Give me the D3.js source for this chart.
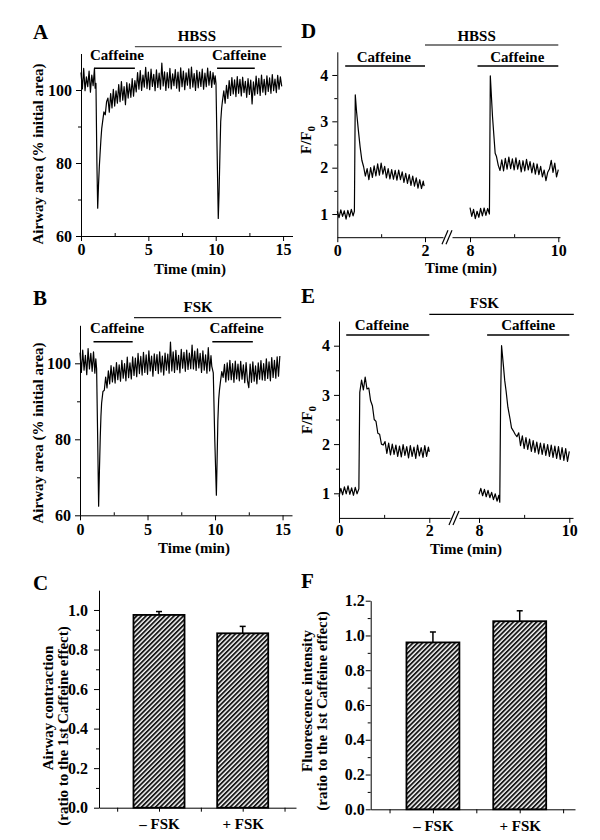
<!DOCTYPE html>
<html>
<head>
<meta charset="utf-8">
<script src="https://cdn.jsdelivr.net/npm/d3@7"></script>
<style>
  body { margin: 0; background: #fff; }
  svg text { font-family: "Liberation Serif", "Times New Roman", serif; font-weight: bold; fill: #000; }
</style>
</head>
<body>
<svg id="fig" width="600" height="840"></svg>
<script>
// ---------- data ----------
// airway area traces, [time (min), % initial area]
const traceA = [[0,104.8],[0.1,100.3],[0.2,105.9],[0.3,99.8],[0.4,103.6],[0.5,100.9],[0.6,105.2],[0.7,99.4],[0.8,104.1],[0.9,101.2],[1.0,106.0],[1.05,100.5],[1.11,101.8],[1.18,80],[1.24,67.6],[1.3,74],[1.36,79],[1.41,82.2],[1.48,86.5],[1.54,89.5],[1.6,91.2],[1.7,94.0],[1.8,93.2],[1.9,96.8],[2.0,97.8],[2.1,93.9],[2.2,99.0],[2.3,95.1],[2.4,100.2],[2.5,95.6],[2.6,99.8],[2.7,96.4],[2.8,101.5],[2.9,96.8],[3.0,102.3],[3.1,97.2],[3.2,100.9],[3.3,96.0],[3.4,102.0],[3.5,97.8],[3.6,101.7],[3.7,98.0],[3.8,103.1],[3.9,98.3],[4.0,102.6],[4.1,99.5],[4.2,104.8],[4.3,100.2],[4.4,105.3],[4.5,99.9],[4.6,104.1],[4.7,100.8],[4.8,106.2],[4.9,100.4],[5.0,104.9],[5.1,100.1],[5.2,105.7],[5.3,101.0],[5.4,104.3],[5.5,99.8],[5.6,105.5],[5.7,100.7],[5.8,104.6],[5.9,100.2],[6.0,107.4],[6.1,101.1],[6.2,105.0],[6.3,99.9],[6.4,104.8],[6.5,100.6],[6.6,105.9],[6.7,100.3],[6.8,104.4],[6.9,101.2],[7.0,105.6],[7.1,100.5],[7.2,104.9],[7.3,99.7],[7.4,106.1],[7.5,100.9],[7.6,105.2],[7.7,100.1],[7.8,104.7],[7.9,101.3],[8.0,105.8],[8.1,100.4],[8.2,106.3],[8.3,100.8],[8.4,104.5],[8.5,99.9],[8.6,105.4],[8.7,100.6],[8.8,104.9],[8.9,101.0],[9.0,105.7],[9.1,100.2],[9.2,104.6],[9.3,100.9],[9.4,106.0],[9.5,101.3],[9.6,105.1],[9.7,100.7],[9.8,104.8],[9.9,101.6],[9.96,103.9],[10.02,101.8],[10.1,84],[10.19,64.8],[10.25,72],[10.31,82],[10.37,91.3],[10.44,95.0],[10.5,97.0],[10.6,99.8],[10.7,96.4],[10.8,101.3],[10.9,97.7],[11.0,102.6],[11.1,98.5],[11.2,103.4],[11.3,98.9],[11.4,102.8],[11.5,98.2],[11.6,103.7],[11.7,99.1],[11.8,102.9],[11.9,98.4],[12.0,103.5],[12.1,99.3],[12.2,102.4],[12.3,98.0],[12.4,103.1],[12.5,98.8],[12.6,102.7],[12.7,96.2],[12.8,102.2],[12.9,98.6],[13.0,103.8],[13.1,99.0],[13.2,103.2],[13.3,98.5],[13.4,104.1],[13.5,99.4],[13.6,102.9],[13.7,98.7],[13.8,103.9],[13.9,99.6],[14.0,103.3],[14.1,99.1],[14.2,104.2],[14.3,99.8],[14.4,103.0],[14.5,99.3],[14.6,104.0],[14.7,100.2],[14.8,103.6],[14.9,101.0]];

const traceB = [[0,102.8],[0.1,97.6],[0.2,103.5],[0.3,98.2],[0.4,102.1],[0.5,97.0],[0.6,103.9],[0.7,98.5],[0.8,102.6],[0.9,97.9],[1.0,103.0],[1.1,97.4],[1.17,101.2],[1.23,98.6],[1.31,80],[1.38,62.4],[1.44,72],[1.5,80.5],[1.55,86],[1.6,89.5],[1.7,92.6],[1.8,92.9],[1.9,96.4],[2.0,93.5],[2.1,98.0],[2.2,94.6],[2.3,99.4],[2.4,95.1],[2.5,99.0],[2.6,94.8],[2.7,100.2],[2.8,95.7],[2.9,99.6],[3.0,95.3],[3.1,100.8],[3.2,96.1],[3.3,99.9],[3.4,95.4],[3.5,101.6],[3.6,96.2],[3.7,100.1],[3.8,95.9],[3.9,101.7],[4.0,96.8],[4.1,101.4],[4.2,96.5],[4.3,102.6],[4.4,97.3],[4.5,101.8],[4.6,96.9],[4.7,102.9],[4.8,97.6],[4.9,102.2],[5.0,97.1],[5.1,103.3],[5.2,98.0],[5.3,101.9],[5.4,96.6],[5.5,102.5],[5.6,98.1],[5.7,102.3],[5.8,97.3],[5.9,103.0],[6.0,97.7],[6.1,101.9],[6.2,96.9],[6.3,102.7],[6.4,98.2],[6.5,102.4],[6.6,97.4],[6.7,105.6],[6.8,98.0],[6.9,103.0],[7.0,97.6],[7.1,103.4],[7.2,98.3],[7.3,102.1],[7.4,97.5],[7.5,103.7],[7.6,98.7],[7.7,102.9],[7.8,97.9],[7.9,103.5],[8.0,98.4],[8.1,102.7],[8.2,98.6],[8.3,104.8],[8.4,98.5],[8.5,103.2],[8.6,98.1],[8.7,103.8],[8.8,98.8],[8.9,102.6],[9.0,97.6],[9.1,103.3],[9.2,98.2],[9.3,102.2],[9.4,97.4],[9.5,104.1],[9.6,98.0],[9.7,102.0],[9.76,99.2],[9.87,97.5],[9.98,80],[10.1,65.3],[10.15,74],[10.21,85],[10.27,90.5],[10.33,93.0],[10.4,95.1],[10.5,97.8],[10.6,96.3],[10.7,99.7],[10.8,95.1],[10.9,100.1],[11.0,95.6],[11.1,100.8],[11.2,95.7],[11.3,99.9],[11.4,95.0],[11.5,100.6],[11.6,95.9],[11.7,99.8],[11.8,95.4],[11.9,100.5],[12.0,95.8],[12.1,99.6],[12.2,94.9],[12.3,100.2],[12.4,95.5],[12.5,93.6],[12.6,99.8],[12.7,95.0],[12.8,100.4],[12.9,95.3],[13.0,99.3],[13.1,94.6],[13.2,100.1],[13.3,95.8],[13.4,100.7],[13.5,95.6],[13.6,99.9],[13.7,95.5],[13.8,101.2],[13.9,96.0],[14.0,100.4],[14.1,95.4],[14.2,101.5],[14.3,96.3],[14.4,100.8],[14.5,96.1],[14.6,101.7],[14.7,96.6],[14.8,101.9]];

// fluorescence traces, [time (min), F/F0]; a 0-2 min and an 8-10 min piece per panel
const traceD1 = [[0,1.06],[0.04,0.92],[0.08,1.09],[0.12,0.95],[0.16,1.07],[0.2,0.89],[0.24,1.08],[0.28,0.94],[0.32,1.10],[0.36,0.96],[0.39,1.06],[0.41,3.57],[0.44,3.2],[0.48,2.81],[0.52,2.45],[0.56,2.16],[0.6,2.02],[0.64,1.82],[0.68,1.98],[0.72,1.74],[0.76,2.0],[0.8,1.79],[0.84,2.04],[0.88,1.82],[0.92,2.08],[0.96,1.84],[1.0,2.1],[1.04,1.86],[1.08,2.03],[1.12,1.78],[1.16,1.98],[1.2,1.76],[1.24,1.96],[1.28,1.75],[1.32,1.94],[1.36,1.73],[1.4,1.95],[1.44,1.74],[1.48,1.91],[1.52,1.68],[1.56,1.88],[1.6,1.66],[1.64,1.85],[1.68,1.62],[1.72,1.82],[1.76,1.60],[1.8,1.78],[1.84,1.56],[1.88,1.74],[1.92,1.55],[1.96,1.71],[1.98,1.6]];
const traceD2 = [[8.0,1.14],[8.04,0.95],[8.08,1.10],[8.12,0.90],[8.16,1.06],[8.2,0.93],[8.24,1.12],[8.28,0.96],[8.32,1.13],[8.36,0.97],[8.4,1.12],[8.44,1.0],[8.46,3.98],[8.51,3.1],[8.57,2.31],[8.6,2.24],[8.64,2.05],[8.68,1.94],[8.72,2.17],[8.76,1.93],[8.8,2.2],[8.84,1.97],[8.88,2.23],[8.92,1.98],[8.96,2.19],[9.0,1.95],[9.04,2.21],[9.08,1.97],[9.12,2.16],[9.16,1.91],[9.2,2.15],[9.24,1.93],[9.28,2.18],[9.32,1.95],[9.36,2.13],[9.4,1.89],[9.44,2.1],[9.48,1.86],[9.52,2.08],[9.56,1.85],[9.6,2.03],[9.64,1.8],[9.68,1.95],[9.72,1.72],[9.76,1.9],[9.8,1.97],[9.84,2.16],[9.88,1.9],[9.92,2.1],[9.96,1.8],[10.0,1.96]];
const traceE1 = [[0,0.93],[0.04,1.1],[0.08,0.97],[0.12,1.13],[0.16,0.99],[0.2,1.15],[0.24,0.98],[0.28,1.11],[0.32,0.96],[0.36,1.12],[0.4,0.99],[0.44,1.09],[0.46,3.05],[0.5,3.3],[0.54,3.1],[0.58,3.36],[0.62,3.12],[0.66,3.14],[0.7,2.88],[0.74,2.78],[0.78,2.5],[0.82,2.46],[0.86,2.22],[0.9,2.2],[0.94,2.0],[0.98,1.98],[1.02,2.05],[1.06,1.81],[1.1,2.02],[1.14,1.78],[1.18,2.0],[1.22,1.79],[1.26,1.98],[1.3,1.75],[1.34,1.96],[1.38,1.74],[1.42,1.99],[1.46,1.77],[1.5,1.95],[1.54,1.72],[1.58,1.97],[1.62,1.75],[1.66,1.94],[1.7,1.71],[1.74,1.98],[1.78,1.76],[1.82,1.93],[1.86,1.73],[1.9,1.97],[1.94,1.75],[1.98,1.94],[2.0,1.84]];
const traceE2 = [[8.0,0.98],[8.04,1.1],[8.08,0.95],[8.12,1.08],[8.16,0.93],[8.2,1.06],[8.24,0.91],[8.28,1.02],[8.32,0.87],[8.36,0.99],[8.4,0.84],[8.44,0.96],[8.46,0.82],[8.48,3.0],[8.5,4.0],[8.54,3.6],[8.57,3.29],[8.6,3.08],[8.64,2.75],[8.69,2.5],[8.72,2.33],[8.76,2.27],[8.8,2.2],[8.84,2.15],[8.88,2.23],[8.92,1.97],[8.96,2.17],[9.0,1.91],[9.04,2.13],[9.08,1.89],[9.12,2.1],[9.16,1.85],[9.2,2.07],[9.24,1.83],[9.28,2.04],[9.32,1.8],[9.36,2.02],[9.4,1.79],[9.44,2.01],[9.48,1.77],[9.52,1.99],[9.56,1.75],[9.6,1.98],[9.64,1.73],[9.68,1.96],[9.72,1.71],[9.76,1.95],[9.8,1.69],[9.84,1.93],[9.88,1.67],[9.92,1.91],[9.96,1.65],[10.0,1.85]];

// drug application bars: [label, start, end, label centre]
const drugsA = [["HBSS", 4, 14.9, 8.6], ["Caffeine", 1.0, 4.0, 2.67], ["Caffeine", 10.1, 12.9, 11.73]];
const drugsB = [["FSK", 4, 14.9, 8.75], ["Caffeine", 1.0, 3.9, 2.75], ["Caffeine", 9.8, 12.8, 11.6]];
const drugsD = [["HBSS", 2.0, 10.0, 8.15], ["Caffeine", 0.18, 2.0, 1.06], ["Caffeine", 8.17, 10.0, 9.07]];
const drugsE = [["FSK", 2.0, 10.1, 8.12], ["Caffeine", 0.16, 2.0, 0.95], ["Caffeine", 8.18, 10.0, 9.09]];

// summary bars
const groups = ["\u2013 FSK", "+ FSK"];
const contractionMean = [0.975, 0.882];
const contractionSem = [0.017, 0.035];
const fluorMean = [0.96, 1.082];
const fluorSem = [0.06, 0.06];

// ticks
const areaTicks = [60, 80, 100], areaMinor = [70, 90];
const minTicks = [0, 5, 10, 15], minMinor = [2.5, 7.5, 12.5];
const ratioTicks = [1, 2, 3, 4], ratioMinor = [1.5, 2.5, 3.5];
const earlyTicks = [0, 2], earlyMinor = [1];
const lateTicks = [8, 10], lateMinor = [9];
const cTicks = [0, 0.2, 0.4, 0.6, 0.8, 1.0], cMinor = [0.1, 0.3, 0.5, 0.7, 0.9];
const fTicks = [0, 0.2, 0.4, 0.6, 0.8, 1.0, 1.2], fMinor = [0.1, 0.3, 0.5, 0.7, 0.9, 1.1];
const groupTicks = [0.5, 1, 1.5, 2, 2.5];

const svg = d3.select("#fig");

// hatch fill for the bars
svg.append("defs")
  .append("pattern")
  .attr("id", "hatch")
  .attr("patternUnits", "userSpaceOnUse")
  .attr("width", 3.3)
  .attr("height", 3.3)
  .attr("patternTransform", "rotate(45)")
  .call((p) => {
    p.append("rect").attr("width", 3.3).attr("height", 3.3).attr("fill", "#fff");
    p.append("line").attr("x1", 0.9).attr("x2", 0.9).attr("y1", 0).attr("y2", 3.3)
      .attr("stroke", "#1a1a1a").attr("stroke-width", 2);
  });

const intFmt = d3.format("d");

const styleAxis = (g, size) => {
  g.attr("font-size", size);
  g.select(".domain").attr("stroke", "#000").attr("stroke-width", 1);
  g.selectAll(".tick line").attr("stroke", "#000");
};

const minorAxis = (g) => {
  g.select(".domain").remove();
  g.selectAll(".tick line").attr("stroke", "#000");
};

const panelLetter = (txt, x, y) =>
  svg.append("text").attr("x", x).attr("y", y).attr("font-size", 21).text(txt);

const yTitle = (lines, cx, cys) => {
  lines.forEach((ln, i) => {
    svg.append("text")
      .attr("transform", `translate(${cx[i]},${cys[i]}) rotate(-90)`)
      .attr("text-anchor", "middle")
      .attr("dy", "0.35em")
      .attr("font-size", 15)
      .text(ln);
  });
};

const drugBars = (drugs, px, rows) => {
  drugs.forEach(([label, t0, t1, tl], i) => {
    const row = i === 0 ? rows.top : rows.caf;
    svg.append("line")
      .attr("x1", px(t0)).attr("x2", px(t1))
      .attr("y1", row.line).attr("y2", row.line)
      .attr("stroke", i === 0 ? rows.topColor : "#000")
      .attr("stroke-width", i === 0 ? 1.2 : 1.6);
    svg.append("text")
      .attr("x", px(tl)).attr("y", row.text)
      .attr("text-anchor", "middle")
      .attr("font-size", 15)
      .text(label);
  });
};

const drawTrace = (data, line) =>
  svg.append("path")
    .datum(data)
    .attr("fill", "none")
    .attr("stroke", "#000")
    .attr("stroke-width", 1.2)
    .attr("stroke-linejoin", "round")
    .attr("d", line);

// ---------- airway area panels (A, B) ----------
function areaPanel(cfg) {
  const x = d3.scaleLinear().domain([0, 15.7]).range(cfg.xRange);
  const y = d3.scaleLinear().domain([60, 110]).range(cfg.yRange);
  const x0 = cfg.xRange[0], yb = cfg.yRange[0];

  svg.append("g").attr("transform", `translate(${x0},0)`)
    .call(d3.axisLeft(y).tickValues(areaTicks).tickSizeInner(5).tickSizeOuter(0).tickPadding(4))
    .call(styleAxis, 16);
  svg.append("g").attr("transform", `translate(${x0},0)`)
    .call(d3.axisLeft(y).tickValues(areaMinor).tickSize(3).tickFormat(""))
    .call(minorAxis);
  svg.append("g").attr("transform", `translate(0,${yb})`)
    .call(d3.axisBottom(x).tickValues(minTicks).tickSizeInner(5).tickSizeOuter(0).tickPadding(3))
    .call(styleAxis, 16);
  svg.append("g").attr("transform", `translate(0,${yb})`)
    .call(d3.axisBottom(x).tickValues(minMinor).tickSize(-3).tickFormat(""))
    .call(minorAxis);

  drawTrace(cfg.trace, d3.line().x((d) => x(d[0])).y((d) => y(d[1])));

  drugBars(cfg.drugs, x, cfg.rows);
  panelLetter(cfg.letter, 33, cfg.letterY);
  yTitle(["Airway area (% initial area)"], [38], [cfg.titleY]);
  svg.append("text").attr("x", cfg.timeX).attr("y", cfg.timeY)
    .attr("text-anchor", "middle").attr("font-size", 15).text("Time (min)");
}

areaPanel({
  trace: traceA, drugs: drugsA, letter: "A", letterY: 39,
  xRange: [81, 292.5], yRange: [236, 53.5],
  rows: { top: { line: 46.7, text: 40.5 }, caf: { line: 68.3, text: 60 }, topColor: "#555" },
  titleY: 154, timeX: 190, timeY: 274
});
areaPanel({
  trace: traceB, drugs: drugsB, letter: "B", letterY: 305,
  xRange: [80, 292], yRange: [515.3, 325.3],
  rows: { top: { line: 317.7, text: 312 }, caf: { line: 341.7, text: 332.7 }, topColor: "#222" },
  titleY: 433, timeX: 194, timeY: 553
});

// ---------- fluorescence panels (D, E), broken time axis ----------
function ratioPanel(cfg) {
  const xe = d3.scaleLinear().domain([0, 2]).range(cfg.early);
  const xl = d3.scaleLinear().domain([8, 10]).range(cfg.late);
  const px = (t) => (t <= 5 ? xe(t) : xl(t));
  const y = d3.scaleLinear().domain([0.5, 4.5]).range(cfg.yRange);
  const x0 = cfg.early[0], yb = cfg.yRange[0];

  svg.append("g").attr("transform", `translate(${x0},0)`)
    .call(d3.axisLeft(y).tickValues(ratioTicks).tickFormat(intFmt)
      .tickSizeInner(5).tickSizeOuter(0).tickPadding(4))
    .call(styleAxis, 16);
  svg.append("g").attr("transform", `translate(${x0},0)`)
    .call(d3.axisLeft(y).tickValues(ratioMinor).tickSize(3).tickFormat(""))
    .call(minorAxis);

  // left and right pieces of the time axis
  const xeAxis = xe.copy().domain([0, xe.invert(cfg.gap[0])]).range([x0, cfg.gap[0]]);
  const xlAxis = xl.copy().domain([xl.invert(cfg.gap[1]), xl.invert(cfg.end)]).range([cfg.gap[1], cfg.end]);
  [[xeAxis, earlyTicks, earlyMinor], [xlAxis, lateTicks, lateMinor]].forEach(([sc, tv, mv]) => {
    svg.append("g").attr("transform", `translate(0,${yb})`)
      .call(d3.axisBottom(sc).tickValues(tv).tickFormat(intFmt)
        .tickSizeInner(5).tickSizeOuter(0).tickPadding(2))
      .call(styleAxis, 16);
    svg.append("g").attr("transform", `translate(0,${yb})`)
      .call(d3.axisBottom(sc).tickValues(mv).tickSize(-3).tickFormat(""))
      .call(minorAxis);
  });
  // break marks
  [0, 4].forEach((dx) => {
    svg.append("line")
      .attr("x1", cfg.gap[0] + dx - 1).attr("y1", yb + 7)
      .attr("x2", cfg.gap[0] + dx + 5).attr("y2", yb - 7)
      .attr("stroke", "#000").attr("stroke-width", 1.2);
  });

  const line = d3.line().x((d) => px(d[0])).y((d) => y(d[1]));
  drawTrace(cfg.first, line);
  drawTrace(cfg.second, line);

  drugBars(cfg.drugs, px, cfg.rows);
  panelLetter(cfg.letter, 301, cfg.letterY);

  const t = svg.append("text")
    .attr("transform", `translate(${cfg.title[0]},${cfg.title[1]}) rotate(-90)`)
    .attr("text-anchor", "middle")
    .attr("dy", "0.35em")
    .attr("font-size", 15);
  t.append("tspan").text("F/F");
  t.append("tspan").attr("font-size", 11).attr("dy", 4).text("0");

  svg.append("text").attr("x", cfg.timeX).attr("y", cfg.timeY)
    .attr("text-anchor", "middle").attr("font-size", 15).text("Time (min)");
}

ratioPanel({
  first: traceD1, second: traceD2, drugs: drugsD, letter: "D", letterY: 38,
  early: [337.3, 425], late: [470, 558.3], gap: [443, 452], end: 560,
  yRange: [237.2, 51.8],
  rows: { top: { line: 45, text: 40.7 }, caf: { line: 66, text: 62 }, topColor: "#000" },
  title: [306, 140], timeX: 461, timeY: 273
});
ratioPanel({
  first: traceE1, second: traceE2, drugs: drugsE, letter: "E", letterY: 303,
  early: [339, 429.3], late: [479, 569.3], gap: [450, 459], end: 573,
  yRange: [517.9, 321.1],
  rows: { top: { line: 314.3, text: 308.3 }, caf: { line: 335, text: 329.5 }, topColor: "#000" },
  title: [307, 420], timeX: 466, timeY: 554
});

// ---------- summary bar panels (C, F) ----------
function barPanel(cfg) {
  const x = d3.scaleLinear().domain([0.283, 2.637]).range(cfg.xRange);
  const y = d3.scaleLinear().domain(cfg.yDomain).range(cfg.yRange);
  const x0 = cfg.xRange[0], yb = cfg.yRange[0];
  const half = 0.305;

  svg.append("g").attr("transform", `translate(${x0},0)`)
    .call(d3.axisLeft(y).tickValues(cfg.ticks).tickFormat(d3.format(".1f"))
      .tickSizeInner(5).tickSizeOuter(0).tickPadding(cfg.pad))
    .call(styleAxis, 16);
  svg.append("g").attr("transform", `translate(${x0},0)`)
    .call(d3.axisLeft(y).tickValues(cfg.minor).tickSize(3).tickFormat(""))
    .call(minorAxis);
  svg.append("g").attr("transform", `translate(0,${yb})`)
    .call(d3.axisBottom(x).tickValues(groupTicks)
      .tickFormat((d) => (d === 1 || d === 2 ? groups[d - 1] : ""))
      .tickSizeInner(4).tickSizeOuter(0).tickPadding(7))
    .call(styleAxis, 15);

  svg.append("g")
    .selectAll("rect")
    .data(cfg.mean)
    .join("rect")
    .attr("x", (d, i) => x(i + 1 - half))
    .attr("width", (d, i) => x(i + 1 + half) - x(i + 1 - half))
    .attr("y", (d) => y(d))
    .attr("height", (d) => yb - y(d))
    .attr("fill", "url(#hatch)")
    .attr("stroke", "#000")
    .attr("stroke-width", 1.8);

  cfg.mean.forEach((m, i) => {
    const cx = x(i + 1), top = y(m + cfg.sem[i]);
    svg.append("line").attr("x1", cx).attr("x2", cx).attr("y1", y(m)).attr("y2", top)
      .attr("stroke", "#000").attr("stroke-width", 1.5);
    svg.append("line").attr("x1", cx - 3).attr("x2", cx + 3).attr("y1", top).attr("y2", top)
      .attr("stroke", "#000").attr("stroke-width", 1.5);
  });

  panelLetter(cfg.letter, cfg.letterX, cfg.letterY);
  yTitle(cfg.title, cfg.titleX, cfg.titleY);
}

barPanel({
  mean: contractionMean, sem: contractionSem, letter: "C", letterX: 33, letterY: 590,
  xRange: [99, 296], yDomain: [0, 1.1], yRange: [807.7, 590.2],
  ticks: cTicks, minor: cMinor, pad: 6,
  title: ["Airway contraction", "(ratio to the 1st Caffeine effect)"],
  titleX: [47.5, 62.5], titleY: [708, 726]
});
barPanel({
  mean: fluorMean, sem: fluorSem, letter: "F", letterX: 301, letterY: 588,
  xRange: [370.7, 575], yDomain: [0, 1.2], yRange: [809.3, 600.7],
  ticks: fTicks, minor: fMinor, pad: 1,
  title: ["Fluorescence intensity", "(ratio to the 1st Caffeine effect)"],
  titleX: [306.7, 321.7], titleY: [701, 711]
});
</script>
</body>
</html>
